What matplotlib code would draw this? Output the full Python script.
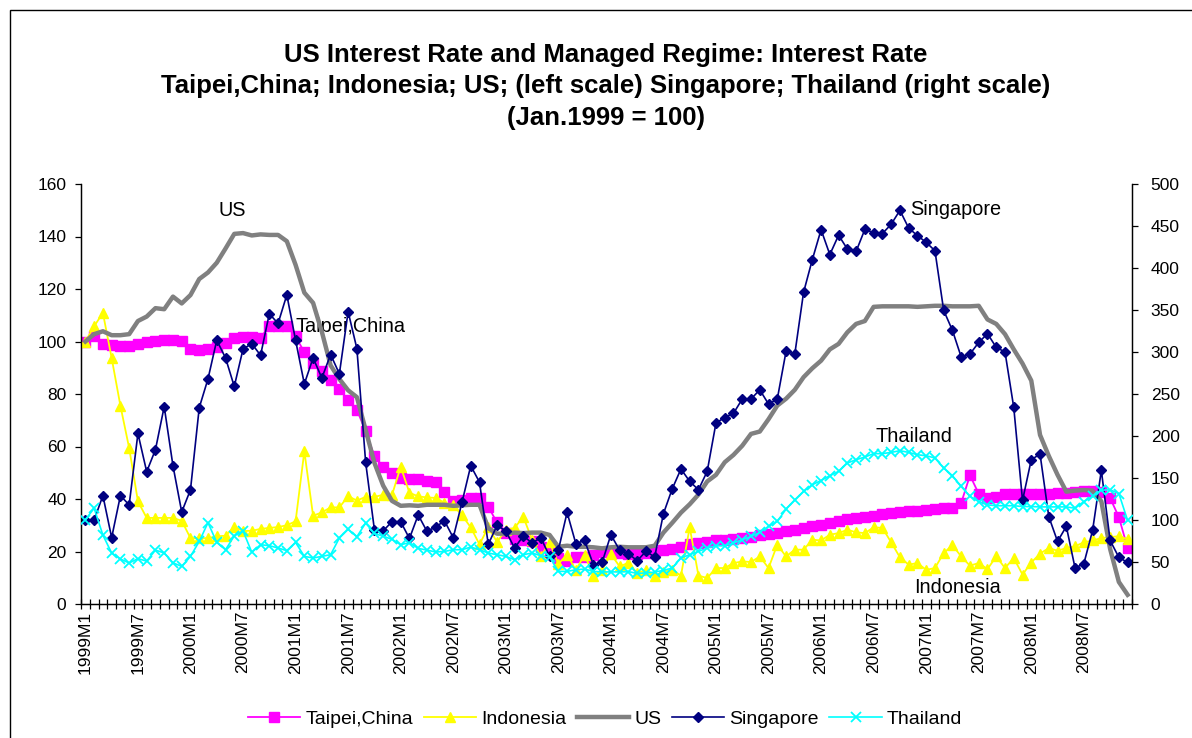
import matplotlib
matplotlib.use("Agg")
import matplotlib.pyplot as plt
import matplotlib.patches as mpatches
import numpy as np

plt.rcParams['font.family'] = ['Liberation Sans', 'DejaVu Sans']

# ---- data (Jan.1999 = 100), monthly 1999M1 .. 2008M12 ----
months = [f"{y}M{m}" for y in range(1999, 2009) for m in range(1, 13)]

taipei = [100, 102, 99.2, 98.8, 98.1, 98.1, 99, 99.7, 100.3, 100.7, 100.7, 100.3,
          97, 96.9, 97.2, 98, 99.5, 101.5, 101.7, 101.7, 101.5, 105.8, 105.8, 105.8,
          102, 95.9, 92, 88.6, 85.4, 81.9, 77.6, 74, 65.8, 56.3, 52.3, 49.8,
          48.1, 47.8, 47.5, 47, 46.5, 42.5, 39.3, 39.6, 40.4, 40.4, 37, 31.1,
          27, 24.8, 24.5, 24, 21.9, 20, 17.5, 16.2, 17.9, 18, 18.8, 20,
          20, 19.5, 19, 19, 19.5, 20, 20.4, 21, 21.9, 22.9, 23.2, 23.5,
          24.2, 24.3, 24.7, 25.1, 25.7, 26.2, 26.6, 27, 27.7, 28.3, 28.9, 29.6,
          30.2, 30.8, 31.5, 32.4, 32.8, 33.1, 33.6, 34.3, 34.7, 35, 35.3, 35.5,
          36, 36.2, 36.6, 36.5, 38.5, 49, 42, 40.4, 40.9, 41.9, 41.9, 42,
          42, 42, 42, 42.2, 42.4, 42.8, 42.9, 42.9, 42.7, 40.4, 33.1, 21.3]

indonesia = [100, 105.8, 110.9, 93.7, 75.5, 59.4, 39.1, 32.8, 32.8, 32.8, 32.8, 31.7,
             25.1, 25.1, 25.1, 25.8, 26, 29.4, 27.8, 27.9, 28.6, 29, 29.3, 30,
             31.5, 58.2, 33.6, 34.9, 36.8, 36.8, 41.1, 39.4, 40.8, 40.8, 41.6, 41.4,
             52.3, 42.4, 41, 40.6, 40.4, 38.6, 37.7, 33.8, 29.2, 22.7, 29.3, 23.6,
             28.2, 29, 33.2, 24.5, 18.1, 23.5, 15.3, 18.8, 12.9, 18.8, 10.8, 13,
             19, 14.3, 15.7, 11.8, 13, 10.8, 12.3, 13, 10.8, 29.2, 10.8, 9.9,
             13.7, 13.7, 15.6, 16.2, 16, 18.1, 13.7, 22.6, 18.1, 20.7, 20.7, 24.5,
             24.2, 26.4, 27, 28.3, 27.3, 27, 29.2, 29, 23.5, 17.8, 15, 15.6,
             13, 13.7, 19.4, 22.4, 18.1, 14.6, 15.6, 13.3, 18.1, 13.7, 17.5, 11.2,
             15.8, 19.2, 21.3, 20.3, 21.3, 22, 23.5, 24.2, 25.1, 25.5, 25.8, 24.7]

us = [100, 102.8, 103.9, 102.4, 102.4, 102.8, 107.8, 109.5, 112.7, 112.3, 117.1, 114.5,
      117.7, 123.8, 126.3, 130.0, 135.4, 141.0, 141.3, 140.4, 140.8, 140.6, 140.6, 138.2,
      129.2, 118.6, 114.7, 103.7, 90.9, 85.7, 81.4, 78.8, 66.3, 53.8, 45.1, 39.3,
      37.4, 37.6, 37.4, 37.8, 37.8, 37.8, 37.4, 37.6, 37.8, 37.8, 28.9, 26.8,
      26.8, 27.2, 27.0, 27.2, 27.2, 26.3, 21.8, 22.2, 21.8, 21.8, 21.6, 21.2,
      21.6, 21.8, 21.6, 21.6, 21.6, 22.2, 27.2, 30.9, 34.8, 38.0, 41.7, 46.7,
      49.2, 54.0, 56.8, 60.3, 64.8, 65.7, 70.4, 75.6, 78.2, 81.6, 86.4, 89.8,
      92.7, 97.0, 99.1, 103.5, 106.7, 107.8, 113.2, 113.4, 113.4, 113.4, 113.4, 113.2,
      113.4, 113.6, 113.6, 113.4, 113.4, 113.4, 113.6, 108.4, 106.7, 102.8, 97.0, 91.6,
      85.1, 64.4, 56.4, 49.2, 42.8, 43.2, 43.4, 43.2, 39.1, 21.0, 8.4, 3.5]

singapore = [100, 100, 129, 79, 129, 118, 203, 157.5, 183.7, 235, 164.6, 109.5,
             136, 233.7, 268, 314, 293, 259, 303.5, 310, 296, 345.5, 334, 368,
             314, 262, 293, 269, 297, 274, 348, 304, 168.6, 88.5, 87, 98,
             98, 78, 106, 86.5, 91.7, 99, 79, 121, 164.6, 145, 71, 93.6,
             87, 66.6, 81, 72.6, 79, 56.7, 64, 109, 71.8, 75.7, 46.8, 49.5,
             82.5, 64, 60, 51.5, 62.6, 56, 107.5, 137, 160.7, 146, 136, 158,
             215.5, 222, 227, 244, 244, 255, 238, 244, 300.7, 297.6, 371, 410,
             445.6, 416, 439, 422.6, 419.8, 446, 442, 441, 452, 468.6, 447.6, 438.5,
             430.5, 420.6, 349.5, 325.7, 294, 297.6, 311.4, 321.8, 305.5, 300, 234, 123.3,
             171.8, 178.5, 104, 74.5, 92.4, 42.8, 48, 87.6, 159, 75.7, 55.5, 49.5]

thailand = [100.4, 114, 82, 60.7, 53.6, 48.8, 54, 51, 64.2, 60.7, 49, 44.8,
            56.7, 74.5, 96.8, 73.3, 64.6, 81, 87, 61.6, 70.6, 69.4, 66.7, 63.5,
            73.3, 56.7, 54.8, 56.7, 58.7, 78.6, 88.9, 80.1, 96.4, 84, 80.7, 77,
            70.6, 73, 66.2, 64.2, 61.9, 62.6, 64.6, 64.6, 67.8, 64.6, 60.7, 58.7,
            56.7, 52.7, 58.7, 60.7, 57.5, 56, 38.8, 38.8, 40.8, 41.6, 38.8, 38.2,
            38.2, 38.2, 38.5, 36.5, 37, 38, 40, 42.8, 54.8, 58.7, 62.6, 66.6,
            69.4, 69.4, 72.6, 76.5, 80.5, 85.3, 92.4, 98.3, 113, 124, 134, 142,
            147, 152.7, 157.9, 167.8, 171.8, 175, 179, 179, 180.5, 182.5, 180.5, 177.7,
            176.5, 173.8, 161.9, 152.7, 140, 128, 122, 118, 117, 117, 117, 116,
            116, 115.6, 115.6, 115.6, 115.6, 114, 122, 128, 135.5, 136, 131.5, 99.5]

left_ticks = list(range(0, 161, 20))
right_ticks = list(range(0, 501, 50))

# ---- figure ----
W, H = 1192, 738
fig = plt.figure(figsize=(W / 100, H / 100), dpi=100)
fig.patch.set_facecolor('white')

# chart-area frame
fig.patches.append(mpatches.Rectangle((10 / W, -0.2), 1.2, 1.2 - 10 / H,
                                      transform=fig.transFigure, fill=False,
                                      edgecolor='black', linewidth=1.0))

L, R, B, T = 81 / W, 1132 / W, 1 - 604 / H, 1 - 184 / H
ax = fig.add_axes([L, B, R - L, T - B])
ax2 = ax.twinx()

x = np.arange(len(months))

ax.plot(x, taipei, color='#FF00FF', lw=1.3, marker='s', ms=6.5, mec='#FF00FF',
        label='Taipei,China', zorder=2)
ax.plot(x, indonesia, color='#FFFF00', lw=1.3, marker='^', ms=7, mec='#FFFF00',
        label='Indonesia', zorder=3)
ax.plot(x, us, color='#808080', lw=3.2, label='US', zorder=4)
ax2.plot(x, singapore, color='#000080', lw=1.2, marker='D', ms=5.2, mec='#000080',
         label='Singapore', zorder=2)
ax2.plot(x, thailand, color='#00FFFF', lw=1.2, marker='x', ms=6.5, mew=1.3,
         label='Thailand', zorder=3)

ax.set_xlim(-0.5, len(months) - 0.5)
ax.set_ylim(0, 160)
ax2.set_ylim(0, 500)
ax.set_yticks(left_ticks)
ax2.set_yticks(right_ticks)

TICK_FS = 12.5
ax.set_xticks(np.arange(-0.5, len(months), 1.0), minor=True)
ax.set_xticks(x[::6])
ax.set_xticklabels(months[::6], rotation=90, fontsize=TICK_FS, va='top', ha='center')
ax.tick_params(axis='x', which='major', length=0, pad=5)
ax.tick_params(axis='x', which='minor', direction='inout', length=6.5, width=0.9)
ax.tick_params(axis='y', direction='out', length=4, width=0.9, labelsize=TICK_FS, pad=6.5)
ax2.tick_params(axis='y', direction='out', length=4, width=0.9, labelsize=TICK_FS, pad=9.5)

for a in (ax, ax2):
    a.spines['top'].set_visible(False)
    for s in ('left', 'right', 'bottom'):
        a.spines[s].set_linewidth(0.9)

# series labels
LAB_FS = 14.3
ax.text(16.8, 149.8, 'US', fontsize=LAB_FS, ha='center', va='center')
ax.text(24.0, 105.6, 'Taipei,China', fontsize=LAB_FS, ha='left', va='center')
ax.text(94.2, 150.2, 'Singapore', fontsize=LAB_FS, ha='left', va='center')
ax.text(90.2, 63.7, 'Thailand', fontsize=LAB_FS, ha='left', va='center')
ax.text(94.6, 6.2, 'Indonesia', fontsize=LAB_FS, ha='left', va='center')

# title
cx = 606 / W
TFS = 18.5
fig.text(cx, 1 - 55 / H, 'US Interest Rate and Managed Regime: Interest Rate',
         fontsize=TFS, fontweight='bold', ha='center', va='center')
fig.text(cx, 1 - 86 / H, 'Taipei,China; Indonesia; US; (left scale) Singapore; Thailand (right scale)',
         fontsize=TFS, fontweight='bold', ha='center', va='center')
fig.text(cx, 1 - 118 / H, '(Jan.1999 = 100)',
         fontsize=TFS, fontweight='bold', ha='center', va='center')

# legend
h1, l1 = ax.get_legend_handles_labels()
h2, l2 = ax2.get_legend_handles_labels()
fig.legend(h1 + h2, l1 + l2, loc='center', bbox_to_anchor=(605 / W, 1 - 719 / H),
           ncol=5, frameon=False, fontsize=14, handlelength=2.7,
           handletextpad=0.25, columnspacing=0.55, numpoints=1)

fig.savefig('out.png', dpi=100, facecolor='white')
